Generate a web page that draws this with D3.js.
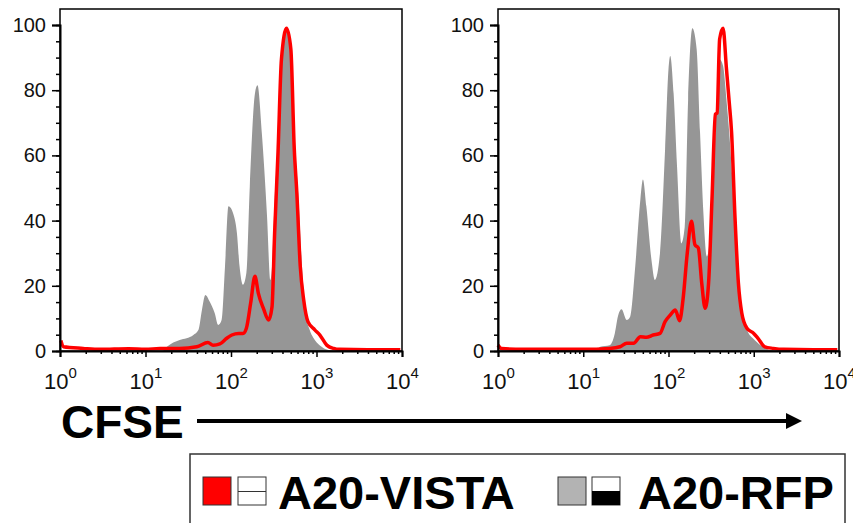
<!DOCTYPE html>
<html>
<head>
<meta charset="utf-8">
<script src="https://cdn.jsdelivr.net/npm/d3@7"></script>
<style>
  body { margin: 0; background: #fff; }
  svg { display: block; font-family: "Liberation Sans", Arial, sans-serif; }
</style>
</head>
<body>
<div id="chart"></div>
<script>
// ---- data (x = log10 CFSE, y = % of max) ----
const yTicks = [0, 20, 40, 60, 80, 100];
const xDecades = [0, 1, 2, 3, 4];

const leftGray = [
  [0, 0], [1.2, 0], [1.25, 1.3], [1.40, 3.4], [1.48, 3.9], [1.56, 4.9], [1.62, 6.5], [1.66, 12.6],
  [1.70, 17.2], [1.75, 15.2], [1.81, 11.6], [1.85, 8], [1.89, 9.5], [1.93, 26], [1.97, 44.4],
  [2.03, 41.8], [2.07, 36], [2.10, 26], [2.14, 20.3], [2.18, 24], [2.22, 50.6], [2.28, 79],
  [2.31, 81.5], [2.36, 67], [2.42, 42], [2.46, 21.8], [2.48, 26], [2.51, 46], [2.55, 65],
  [2.59, 92.6], [2.65, 99.3], [2.71, 87.5], [2.75, 63], [2.79, 46.5], [2.83, 26], [2.87, 12],
  [2.92, 6.5], [2.98, 3.4], [3.06, 1.3], [3.14, 0.3], [3.3, 0], [4, 0]
];
const leftRed = [
  [0.01, 3.2], [0.04, 1.3], [0.27, 0.8], [0.47, 0.5], [0.8, 0.7], [1.0, 0.5], [1.17, 0.8],
  [1.40, 0.8], [1.60, 1.3], [1.73, 2.6], [1.79, 1.8], [1.87, 2.2], [1.95, 3.9], [2.01, 4.9],
  [2.09, 5.4], [2.14, 5.4], [2.18, 7], [2.23, 14.7], [2.28, 22.9], [2.32, 17.7], [2.38, 13],
  [2.44, 9.5], [2.48, 13.6], [2.51, 36], [2.55, 61], [2.59, 89.5], [2.65, 99], [2.70, 92.6],
  [2.74, 62], [2.77, 48.5], [2.81, 26], [2.85, 15.7], [2.90, 9], [2.98, 6.5], [3.04, 4.9],
  [3.12, 1.8], [3.20, 0.8], [3.27, 0.5], [3.6, 0.4], [3.98, 0.4]
];

const rightGray = [
  [0, 0], [1.15, 0], [1.20, 1.3], [1.31, 1.8], [1.37, 5.4], [1.41, 11], [1.45, 12.8], [1.51, 9.5],
  [1.55, 10.5], [1.61, 26], [1.67, 46.5], [1.70, 52.6], [1.74, 44.4], [1.80, 28], [1.84, 21.8],
  [1.90, 30], [1.96, 62], [2.00, 86.5], [2.02, 90.5], [2.06, 79], [2.10, 56.7], [2.15, 33],
  [2.19, 38], [2.23, 77], [2.28, 99], [2.33, 92.6], [2.37, 67], [2.41, 42], [2.45, 29],
  [2.49, 36], [2.55, 67], [2.60, 89.5], [2.64, 87.5], [2.68, 77], [2.74, 56.7], [2.78, 36],
  [2.84, 15.7], [2.92, 6.5], [3.01, 3.4], [3.11, 1.3], [3.19, 0.3], [3.3, 0], [4, 0]
];
const rightRed = [
  [0.0, 1.8], [0.04, 0.8], [0.3, 0.5], [0.7, 0.5], [1.0, 0.5], [1.31, 0.8], [1.43, 1.3],
  [1.51, 2.4], [1.59, 2.4], [1.67, 4.4], [1.74, 4.2], [1.82, 4.9], [1.90, 5.4], [1.96, 9],
  [2.02, 11], [2.08, 12.6], [2.13, 9.3], [2.17, 15.7], [2.22, 30], [2.27, 39.8], [2.31, 32.6],
  [2.35, 31.6], [2.39, 20.8], [2.43, 13.1], [2.47, 20.8], [2.51, 46.5], [2.55, 72.6],
  [2.57, 73], [2.60, 95.7], [2.64, 99], [2.68, 86.5], [2.71, 77], [2.74, 67], [2.78, 41],
  [2.82, 20.8], [2.86, 11.6], [2.92, 7], [3.00, 5.4], [3.05, 3.9], [3.13, 1.3], [3.23, 0.8],
  [3.35, 0.5], [3.7, 0.4], [3.98, 0.4]
];

const panels = [
  { left: 60, right: 402, gray: leftGray, red: leftRed },
  { left: 498, right: 839, gray: rightGray, red: rightRed }
];

const legendItems = ["A20-VISTA", "A20-RFP"];

// ---- drawing ----
const W = 853, H = 523;
const plotTop = 9, plotBottom = 351;

const svg = d3.select("#chart").append("svg")
  .attr("width", W)
  .attr("height", H);

const yScale = d3.scaleLinear().domain([0, 100]).range([plotBottom, plotTop + 16]);

panels.forEach(p => {
  const xScale = d3.scaleLog().domain([1, 1e4]).range([p.left, p.right]);
  const g = svg.append("g");

  const area = d3.area()
    .x(d => xScale(Math.pow(10, d[0])))
    .y0(yScale(0))
    .y1(d => yScale(d[1]))
    .curve(d3.curveMonotoneX);

  const line = d3.line()
    .x(d => xScale(Math.pow(10, d[0])))
    .y(d => yScale(d[1]))
    .curve(d3.curveMonotoneX);

  g.append("path")
    .datum(p.gray)
    .attr("d", area)
    .attr("fill", "#969696");

  g.append("path")
    .datum(p.red)
    .attr("d", line)
    .attr("fill", "none")
    .attr("stroke", "#ff0000")
    .attr("stroke-width", 3.5)
    .attr("stroke-linejoin", "round");

  // frame
  g.append("rect")
    .attr("x", p.left)
    .attr("y", plotTop)
    .attr("width", p.right - p.left)
    .attr("height", plotBottom - plotTop)
    .attr("fill", "none")
    .attr("stroke", "#000")
    .attr("stroke-width", 1.5);

  // y axis: minor ticks every 5, major every 20
  const yAxisMinor = d3.axisLeft(yScale)
    .tickValues(d3.range(0, 101, 5))
    .tickSize(4)
    .tickFormat("");
  const yAxis = d3.axisLeft(yScale)
    .tickValues(yTicks)
    .tickSize(8)
    .tickPadding(6);

  g.append("g").attr("transform", `translate(${p.left},0)`).call(yAxisMinor)
    .call(s => s.select(".domain").remove());
  const ya = g.append("g").attr("transform", `translate(${p.left},0)`).call(yAxis);
  ya.select(".domain").attr("stroke-width", 2);
  ya.selectAll("text").attr("font-size", 20).attr("fill", "#111")
    .attr("font-family", "Liberation Sans, Arial, sans-serif");

  // x axis: minor ticks 2..9 per decade
  const minor = [];
  xDecades.slice(0, -1).forEach(e => {
    for (let k = 2; k <= 9; k++) minor.push(k * Math.pow(10, e));
  });
  const xAxisMinor = d3.axisBottom(xScale).tickValues(minor).tickSize(3).tickFormat("");
  const xAxis = d3.axisBottom(xScale)
    .tickValues(xDecades.map(e => Math.pow(10, e)))
    .tickSize(6)
    .tickFormat("");

  g.append("g").attr("transform", `translate(0,${plotBottom})`).call(xAxisMinor)
    .call(s => s.select(".domain").remove());
  const xa = g.append("g").attr("transform", `translate(0,${plotBottom})`).call(xAxis);
  xa.select(".domain").attr("stroke-width", 2);
  g.selectAll(".tick line").attr("stroke-width", 1.5);

  xa.selectAll(".tick").each(function(d) {
    const t = d3.select(this).append("text")
      .attr("y", 38)
      .attr("text-anchor", "middle")
      .attr("fill", "#111")
      .attr("font-size", 22)
      .attr("font-family", "Liberation Sans, Arial, sans-serif");
    t.append("tspan").text("10");
    t.append("tspan")
      .attr("font-size", 15)
      .attr("dy", -11)
      .text(Math.round(Math.log10(d)));
  });
});

// CFSE label with arrow
svg.append("defs").append("marker")
  .attr("id", "arrow")
  .attr("viewBox", "0 0 10 10")
  .attr("refX", 0)
  .attr("refY", 5)
  .attr("markerWidth", 4)
  .attr("markerHeight", 4)
  .attr("markerUnits", "strokeWidth")
  .attr("orient", "auto")
  .append("path")
  .attr("d", "M0,0 L10,5 L0,10 Z")
  .attr("fill", "#000");

svg.append("text")
  .attr("x", 61)
  .attr("y", 438)
  .attr("font-size", 46)
  .attr("font-weight", "bold")
  .attr("fill", "#000")
  .text("CFSE");

svg.append("line")
  .attr("x1", 197)
  .attr("x2", 786)
  .attr("y1", 421)
  .attr("y2", 421)
  .attr("stroke", "#000")
  .attr("stroke-width", 4)
  .attr("marker-end", "url(#arrow)");

// legend
const lg = svg.append("g");
lg.append("rect")
  .attr("x", 190)
  .attr("y", 454)
  .attr("width", 655)
  .attr("height", 100)
  .attr("fill", "#fff")
  .attr("stroke", "#333")
  .attr("stroke-width", 1.5);

const sw = 28;
// A20-VISTA swatches
lg.append("rect").attr("x", 203).attr("y", 477).attr("width", sw).attr("height", sw)
  .attr("fill", "#ff0000").attr("stroke", "#333").attr("stroke-width", 1);
lg.append("rect").attr("x", 238).attr("y", 477).attr("width", sw).attr("height", sw)
  .attr("fill", "#fff").attr("stroke", "#333").attr("stroke-width", 1);
lg.append("line").attr("x1", 238).attr("x2", 238 + sw).attr("y1", 491.5).attr("y2", 491.5)
  .attr("stroke", "#333").attr("stroke-width", 1);
lg.append("text").attr("x", 278).attr("y", 509)
  .attr("font-size", 47).attr("font-weight", "bold").attr("fill", "#000")
  .text(legendItems[0]);

// A20-RFP swatches
lg.append("rect").attr("x", 558).attr("y", 477).attr("width", sw).attr("height", sw)
  .attr("fill", "#b3b3b3").attr("stroke", "#333").attr("stroke-width", 1);
lg.append("rect").attr("x", 592).attr("y", 477).attr("width", sw).attr("height", sw)
  .attr("fill", "#fff").attr("stroke", "#333").attr("stroke-width", 1);
lg.append("rect").attr("x", 592).attr("y", 491).attr("width", sw).attr("height", sw - 14)
  .attr("fill", "#000");
lg.append("text").attr("x", 638).attr("y", 509)
  .attr("font-size", 47).attr("font-weight", "bold").attr("fill", "#000")
  .text(legendItems[1]);
</script>
</body>
</html>
